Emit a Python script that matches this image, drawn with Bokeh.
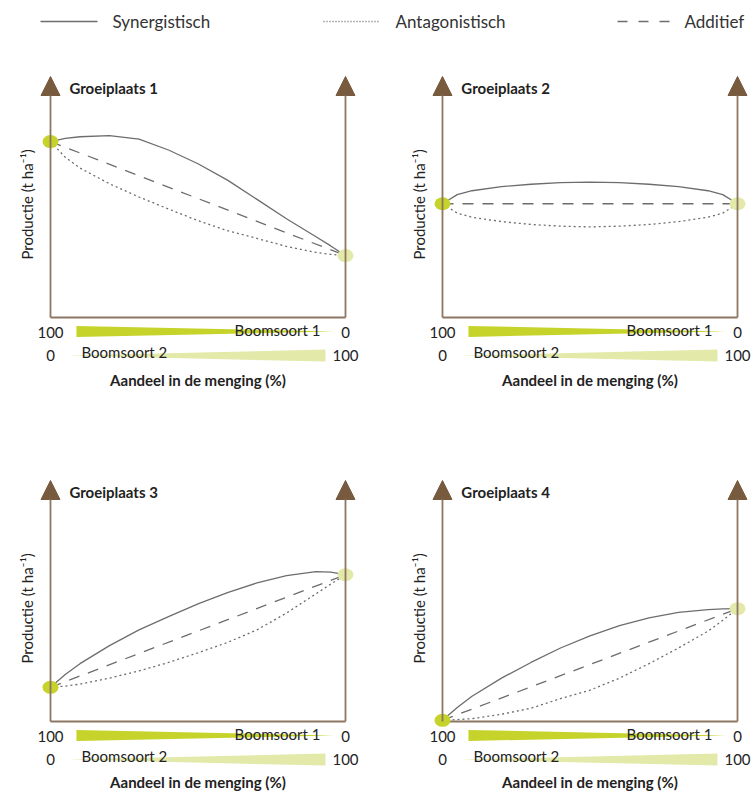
import math
from bokeh.plotting import figure
from bokeh.models import Range1d, Arrow, NormalHead
from bokeh.layouts import column, row
from bokeh.embed import file_html
from bokeh.resources import INLINE
from bokeh.core.properties import value

# ---------------- data ----------------
sites = ["Groeiplaats 1", "Groeiplaats 2", "Groeiplaats 3", "Groeiplaats 4"]
# share of Boomsoort 2 in the mixture (%), left = 100 % Boomsoort 1
mix = [0, 5, 10, 20, 30, 40, 50, 60, 70, 80, 90, 95, 100]
syn = [
    [73, 74.3, 75, 75.5, 74, 69.5, 63.8, 57, 49, 41, 33.5, 29.7, 25.7],
    [47.2, 51, 52.6, 54.3, 55.3, 56, 56.2, 56, 55.3, 54.3, 52.6, 51, 47.2],
    [14.2, 19.5, 24, 31.5, 38, 43.5, 48.8, 53.5, 57.5, 60.5, 62.2, 62, 60.9],
    [0.5, 5.8, 10.5, 18, 24.5, 30.5, 35.5, 39.8, 43, 45.3, 46.4, 46.7, 46.8],
]
ant = [
    [73, 66.5, 62, 55.5, 50, 45, 40.2, 36, 32.8, 29.5, 27, 26.2, 25.7],
    [47.2, 43.3, 41.6, 39.8, 38.6, 37.9, 37.6, 37.9, 38.6, 39.8, 41.6, 43.3, 47.2],
    [14.2, 14.7, 15.5, 18, 21, 24.5, 28.5, 32.8, 38, 45, 53, 57, 60.9],
    [0.5, 0.8, 1.2, 3, 5.5, 9.5, 13, 18, 24, 30.5, 37.5, 42, 46.8],
]
mono_sp1 = [73, 47.2, 14.2, 0.5]     # pure Boomsoort 1 (left)
mono_sp2 = [25.7, 47.2, 60.9, 46.8]  # pure Boomsoort 2 (right)
ends = [0, 100]
share_sp1 = [100, 0]
share_sp2 = [0, 100]
legend_labels = ["Synergistisch", "Antagonistisch", "Additief"]
tick_left = ["100", "0"]
tick_right = ["0", "100"]

# ---------------- style ----------------
FONT = "Lato"
GRAY = "#6d6d6d"
AXC = "#8d7662"
ARC = "#785a3e"
C1 = "#c6d32b"
C2 = "#e3e9a9"
TXT = "#222222"
SOLID = dict(line_color=GRAY, line_width=1.3)
DOT = dict(line_color=GRAY, line_width=1.3, line_dash="2 3")
DASH = dict(line_color=GRAY, line_width=1.3, line_dash="11 9")

W = 377
XR = [(-16.95, 110.85), (-22.03, 105.76)]
ROWS = [(404, (-52.70, 114.94), -26.1), (348, (-29.46, 114.94), -25.2)]


def base_fig(w, h, xr, yr):
    p = figure(width=w, height=h, x_range=Range1d(*xr), y_range=Range1d(*yr),
               x_axis_type=None, y_axis_type=None, toolbar_location=None,
               output_backend="svg", min_border=0)
    p.outline_line_color = None
    p.background_fill_color = "white"
    p.border_fill_color = "white"
    return p


def panel(i):
    col = i % 2
    h, yr, lab_y = ROWS[i // 2]
    p = base_fig(W, h, XR[col], yr)
    # frame: bottom line + two arrows
    p.segment(x0=[ends[0]], y0=[0], x1=[ends[1]], y1=[0], line_color=AXC, line_width=1.8)
    for xv in ends:
        p.add_layout(Arrow(end=NormalHead(size=19, fill_color=ARC, line_color=ARC),
                           x_start=xv, y_start=0, x_end=xv, y_end=100,
                           line_color=AXC, line_width=1.8))
    # curves
    p.line(ends, [mono_sp1[i], mono_sp2[i]], **DASH)
    p.line(mix, ant[i], **DOT)
    p.line(mix, syn[i], **SOLID)
    p.ellipse(x=ends, y=[mono_sp1[i], mono_sp2[i]], width=16, height=13,
              width_units="screen", height_units="screen",
              fill_color=[C1, C2], line_color=None)
    # share wedges
    c1, k1 = -5.8, 2.28 / 100
    c2, k2 = -15.8, 2.5 / 100
    p.varea(x=[8.8, 96], y1=[c1 - k1 * s for s in share_sp1], y2=[c1 + k1 * s for s in share_sp1],
            fill_color=C1)
    p.varea(x=[6.1, 93.2], y1=[c2 - k2 * s for s in share_sp2], y2=[c2 + k2 * s for s in share_sp2],
            fill_color=C2)
    common = dict(text_font=value(FONT), text_color=TXT, text_baseline="middle")
    p.text(x=ends, y=[-6.2, -6.2], text=tick_left, text_align="center",
           text_font_size="15px", **common)
    p.text(x=ends, y=[-15.8, -15.8], text=tick_right, text_align="center",
           text_font_size="15px", **common)
    p.text(x=[91.5], y=[-5.0], text=["Boomsoort 1"], text_align="right",
           text_font_size="15px", **common)
    p.text(x=[10.5], y=[-14.5], text=["Boomsoort 2"], text_align="left",
           text_font_size="15px", **common)
    p.text(x=[50], y=[lab_y], text=["Aandeel in de menging (%)"], text_align="center",
           text_font_size="15px", text_font_style="bold", **common)
    p.text(x=[6.4], y=[95.4], text=[sites[i]], text_align="left",
           text_font_size="15px", text_font_style="bold", **common)
    p.text(x=[-7.8], y=[46.9], text=["Productie (t ha\u207b\u00b9)"], text_align="center",
           angle=math.pi / 2, text_font_size="15px", **common)
    return p


# legend strip (screen-like coordinates, y downwards)
leg = base_fig(754, 40, (0, 754), (40, 0))
LEG_X0 = [40, 323, 617]
LEG_X1 = [97, 380, 669]
LEG_TX = [112, 395, 684]
LEG_Y = 21
for k, style in enumerate([SOLID,
                           dict(line_color=GRAY, line_width=1.3, line_dash="1 2"),
                           dict(line_color=GRAY, line_width=1.3, line_dash="10 11")]):
    leg.segment(x0=[LEG_X0[k]], y0=[LEG_Y], x1=[LEG_X1[k]], y1=[LEG_Y], **style)
leg.text(x=LEG_TX, y=[LEG_Y] * 3, text=legend_labels, text_font=value(FONT),
         text_font_size="17px", text_color="#333333", text_baseline="middle", text_align="left")

layout = column(leg, row(panel(0), panel(1)), row(panel(2), panel(3)))
open("out.html", "w").write(file_html(layout, INLINE))
